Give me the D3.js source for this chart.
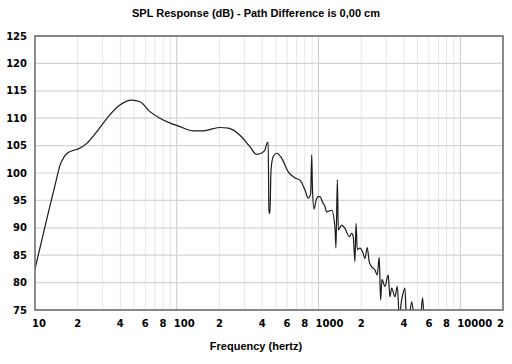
<!DOCTYPE html>
<html>
<head>
<meta charset="utf-8">
<script src="https://cdn.jsdelivr.net/npm/d3@7.9.0/dist/d3.min.js"></script>
<style>
  html, body { margin: 0; padding: 0; background: #fff; }
  svg { display: block; }
  .tick-label { font-family: 'DejaVu Sans', sans-serif; font-weight: bold; font-size: 10px; fill: #000; }
  .title { font-family: 'Liberation Sans', Arial, sans-serif; font-weight: bold; font-size: 11px; fill: #000; }
</style>
</head>
<body>
<svg id="chart"></svg>
<script>
// SPL response (Hz / dB)
const freqs = [
  10, 12.5, 14, 15, 16, 16.9, 18.5, 20.2, 23.2, 27.2, 32.9, 39.7, 48, 55, 64.7, 76, 90, 102,
  130, 154, 200, 231, 279, 328, 366, 395, 418, 437, 441, 447, 454, 462, 479,
  506, 549, 611, 682, 739, 802, 846, 880, 895, 905, 929, 960, 995, 1023, 1070,
  1109, 1140, 1237, 1305, 1327, 1357, 1379, 1455, 1535, 1646, 1711, 1757, 1806,
  1838, 1876, 1959, 2046, 2125, 2206, 2278, 2369, 2500, 2594, 2679, 2740, 2800,
  2940, 3101, 3188, 3278, 3458, 3590, 3709, 3855, 4066, 4179, 4350, 4540, 4800,
  5200, 5420, 5600, 6500, 8000, 10000, 14000, 20000
];
const spl = [
  82.5, 93.1, 98.3, 101.4, 102.9, 103.6, 104.1, 104.4, 105.4, 107.5, 110.3, 112.4, 113.3, 113.0, 111.2, 110.0, 109.1, 108.6,
  107.7, 107.7, 108.3, 108.2, 106.9, 104.8, 103.4, 103.6, 104.2, 105.6, 105.6, 93.0, 92.6, 100.5, 103.0,
  103.6, 102.7, 100.2, 99.1, 98.7, 96.9, 95.4, 96.3, 103.3, 97.5, 93.4, 95.0, 95.7, 95.7, 94.6,
  93.9, 92.9, 93.2, 90.2, 86.3, 98.8, 89.6, 90.5, 89.9, 88.4, 89.0, 88.4, 83.8,
  90.8, 86.0, 86.3, 85.6, 84.4, 86.4, 83.8, 82.9, 82.3, 81.4, 84.6, 76.8, 80.6,
  79.3, 81.4, 77.4, 79.0, 77.4, 79.3, 74.0, 76.8, 79.0, 73.0, 73.5, 76.5, 72.5,
  73.0, 77.2, 72.0, 70.0, 68.0, 66.0, 63.0, 60.0
];

const yTicks = [75, 80, 85, 90, 95, 100, 105, 110, 115, 120, 125];
const xTicks = [10, 20, 40, 60, 80, 100, 200, 400, 600, 800, 1000, 2000, 4000, 6000, 8000, 10000, 20000];
const xTickLabels = ['10', '2', '4', '6', '8', '100', '2', '4', '6', '8', '1000', '2', '4', '6', '8', '10000', '2'];
const minorFreqs = [20, 30, 40, 50, 60, 70, 80, 90, 200, 300, 400, 500, 600, 700, 800, 900,
  2000, 3000, 4000, 5000, 6000, 7000, 8000, 9000];
const decadeFreqs = [100, 1000, 10000];

const title = 'SPL Response (dB) - Path Difference is 0,00 cm';
const xTitle = 'Frequency (hertz)';

const width = 512;
const height = 364;
const margin = { top: 36, right: 9, bottom: 54, left: 35 };

const svg = d3.select('#chart')
  .attr('width', width)
  .attr('height', height);

svg.append('rect')
  .attr('width', width)
  .attr('height', height)
  .attr('fill', '#fff');

const x = d3.scaleLog()
  .domain([10, 20000])
  .range([margin.left, width - margin.right]);

const y = d3.scaleLinear()
  .domain([75, 125])
  .range([height - margin.bottom, margin.top]);

// grid
const grid = svg.append('g');
grid.selectAll('.vminor')
  .data(minorFreqs)
  .join('line')
    .attr('x1', d => x(d)).attr('x2', d => x(d))
    .attr('y1', margin.top).attr('y2', height - margin.bottom)
    .attr('stroke', '#e6e6e6')
    .attr('stroke-width', 1);

grid.selectAll('.vmajor')
  .data(decadeFreqs)
  .join('line')
    .attr('x1', d => x(d)).attr('x2', d => x(d))
    .attr('y1', margin.top).attr('y2', height - margin.bottom)
    .attr('stroke', '#c8c8c8')
    .attr('stroke-width', 1);

grid.selectAll('.hgrid')
  .data(yTicks)
  .join('line')
    .attr('x1', margin.left).attr('x2', width - margin.right)
    .attr('y1', d => y(d)).attr('y2', d => y(d))
    .attr('stroke', '#d4d4d4')
    .attr('stroke-width', 1.2);

// clip so the tail under 75 dB is hidden
svg.append('defs')
  .append('clipPath')
    .attr('id', 'clip')
  .append('rect')
    .attr('x', margin.left)
    .attr('y', margin.top)
    .attr('width', width - margin.left - margin.right)
    .attr('height', height - margin.top - margin.bottom);

const pts = freqs.map((f, i) => [f, spl[i]]);

const line = d3.line()
  .x(d => x(d[0]))
  .y(d => y(d[1]))
  .curve(d3.curveMonotoneX);

svg.append('path')
  .datum(pts)
  .attr('clip-path', 'url(#clip)')
  .attr('fill', 'none')
  .attr('stroke', '#1a1a1a')
  .attr('stroke-width', 1.2)
  .attr('stroke-linejoin', 'round')
  .attr('d', line);

// frame
svg.append('rect')
  .attr('x', margin.left)
  .attr('y', margin.top)
  .attr('width', width - margin.left - margin.right)
  .attr('height', height - margin.top - margin.bottom)
  .attr('fill', 'none')
  .attr('stroke', '#6e6e6e')
  .attr('stroke-width', 1.6);

// y labels
svg.append('g')
  .selectAll('text')
  .data(yTicks)
  .join('text')
    .attr('class', 'tick-label')
    .attr('x', 27)
    .attr('y', d => y(d))
    .attr('dy', '0.36em')
    .attr('text-anchor', 'end')
    .text(d => d);

// x labels
svg.append('g')
  .selectAll('text')
  .data(xTicks)
  .join('text')
    .attr('class', 'tick-label')
    .attr('x', (d, i) => {
      const lab = xTickLabels[i];
      if (i === xTicks.length - 1) return x(d) + 1;
      return lab.length > 1 ? x(d) - 3 : x(d);
    })
    .attr('y', 327)
    .attr('text-anchor', (d, i) => {
      if (i === xTicks.length - 1) return 'end';
      return xTickLabels[i].length > 1 ? 'start' : 'middle';
    })
    .text((d, i) => xTickLabels[i]);

svg.append('text')
  .attr('class', 'title')
  .attr('x', width / 2)
  .attr('y', 17)
  .attr('text-anchor', 'middle')
  .text(title);

svg.append('text')
  .attr('class', 'title')
  .attr('x', width / 2)
  .attr('y', 350)
  .attr('text-anchor', 'middle')
  .text(xTitle);
</script>
</body>
</html>
